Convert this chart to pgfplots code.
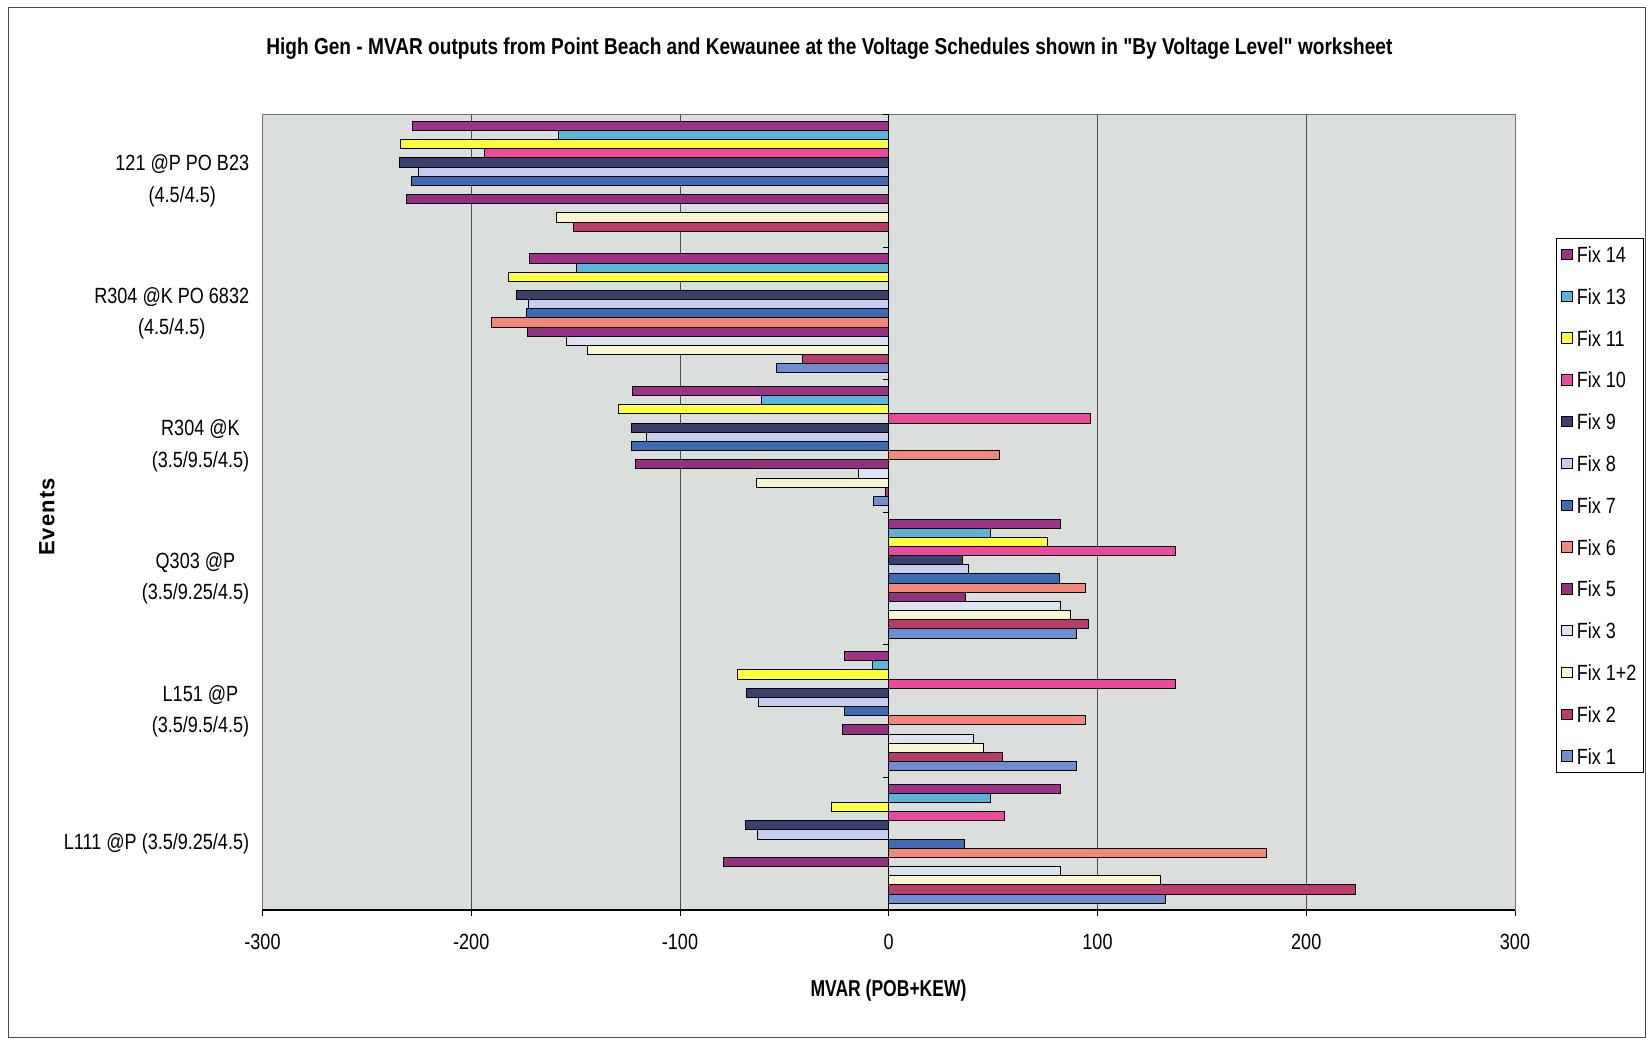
\documentclass[border=0pt]{standalone}
\usepackage{fontspec}
\setmainfont{Liberation Sans}[FakeStretch=0.82]
\newfontfamily\plainfont{Liberation Sans}[LetterSpace=5]
\newfontfamily\titlefont{Liberation Sans}[FakeStretch=0.82, Ligatures=TeXOff]
\usepackage{graphicx}
\usepackage{pgfplots}
\pgfplotsset{compat=1.18}
\definecolor{c14}{HTML}{9C3389}
\definecolor{c13}{HTML}{5CB4D8}
\definecolor{c11}{HTML}{FFFF3C}
\definecolor{c10}{HTML}{E94A9C}
\definecolor{c9}{HTML}{3A406C}
\definecolor{c8}{HTML}{C6CDEE}
\definecolor{c7}{HTML}{3E6BB6}
\definecolor{c6}{HTML}{F2877C}
\definecolor{c5}{HTML}{93307F}
\definecolor{c3}{HTML}{DCE4F4}
\definecolor{c12}{HTML}{F6F6D2}
\definecolor{c2}{HTML}{B93C6C}
\definecolor{c1}{HTML}{6F8ECF}
\definecolor{plotbg}{HTML}{DADEDC}
\begin{document}
\begin{tikzpicture}[x=1pt,y=1pt]
\path[use as bounding box] (0,0) rectangle (823,520);
\draw[black!70,line width=0.5pt] (4,1) rectangle (822.5,516);
\begin{axis}[
  at={(131.25pt,65pt)}, anchor=south west,
  scale only axis, width=626.25pt, height=397.75pt,
  xmin=-300, xmax=300, ymin=-0.5, ymax=5.5,
  xbar, bar width=4.58pt,
  axis background/.style={fill=plotbg},
  axis line style={draw=black!55, line width=0.5pt},
  xmajorgrids, grid style={draw=black!70, line width=0.5pt},
  xtick={-300,-200,-100,0,100,200,300},
  xticklabels={-300,-200,-100,0,100,200,300},
  xtick pos=left, tick align=outside, major tick length=3pt,
  xtick style={draw=black, line width=0.5pt},
  ytick={0,1,2,3,4,5},
  yticklabels={{L111 @P (3.5/9.25/4.5)},{L151 @P\\(3.5/9.5/4.5)},{Q303 @P\\(3.5/9.25/4.5)},{R304 @K\\(3.5/9.5/4.5)},{R304 @K PO 6832\\(4.5/4.5)},{121 @P PO B23\\(4.5/4.5)}},
  ytick pos=left, ytick style={draw=none},
  xticklabel style={font=\fontsize{11}{13}\selectfont, inner sep=0pt, anchor=north, yshift=-9pt},
  yticklabel style={font=\fontsize{11}{15.75}\selectfont, align=center, inner sep=0pt, anchor=east, xshift=-3.5pt},
  every axis plot/.append style={draw=black, line width=0.5pt},
  legend image code/.code={\draw[#1, line width=0.5pt] (0pt,-2.6pt) rectangle (5.2pt,2.6pt);},
  legend style={at={(1.0327,0.8447)}, anchor=north west, draw=black, line width=0.5pt, fill=white,
    font=\fontsize{11}{13}\selectfont, inner ysep=3pt, inner xsep=2.5pt, row sep=10.9pt,
    nodes={inner sep=1pt, text height=8pt, text depth=0pt},
    /tikz/every odd column/.append style={column sep=1pt}},
  legend cell align=left,
]
\addplot[fill=c14, bar shift=27.48pt] coordinates {(82.5,0) (-21.3,1) (82.5,2) (-122.6,3) (-172.1,4) (-228,5)};
\addplot[fill=c13, bar shift=22.9pt] coordinates {(48.6,0) (-7.7,1) (48.6,2) (-60.8,3) (-149.8,4) (-158,5)};
\addplot[fill=c11, bar shift=18.32pt] coordinates {(-27.6,0) (-72.4,1) (76.1,2) (-129.3,3) (-182.3,4) (-234,5)};
\addplot[fill=c10, bar shift=13.74pt] coordinates {(55.5,0) (137.3,1) (137.3,2) (96.5,3) (-193.5,5)};
\addplot[fill=c9, bar shift=9.16pt] coordinates {(-68.5,0) (-68,1) (35.4,2) (-123.4,3) (-178.5,4) (-234.3,5)};
\addplot[fill=c8, bar shift=4.58pt] coordinates {(-62.7,0) (-62.5,1) (38.2,2) (-116.2,3) (-172.5,4) (-225.3,5)};
\addplot[fill=c7, bar shift=0pt] coordinates {(36.5,0) (-21.3,1) (81.8,2) (-123.3,3) (-173.7,4) (-228.5,5)};
\addplot[fill=c6, bar shift=-4.58pt] coordinates {(180.8,0) (94.3,1) (94.3,2) (53,3) (-190.3,4)};
\addplot[fill=c5, bar shift=-9.16pt] coordinates {(-79.3,0) (-22.1,1) (36.9,2) (-121.3,3) (-173,4) (-230.9,5)};
\addplot[fill=c3, bar shift=-13.74pt] coordinates {(82.5,0) (40.8,1) (82.3,2) (-14.3,3) (-154.6,4)};
\addplot[fill=c12, bar shift=-18.32pt] coordinates {(130,0) (45.4,1) (87.3,2) (-63.4,3) (-144.3,4) (-159.4,5)};
\addplot[fill=c2, bar shift=-22.9pt] coordinates {(223.6,0) (54.3,1) (95.9,2) (-1.5,3) (-41.4,4) (-151,5)};
\addplot[fill=c1, bar shift=-27.48pt] coordinates {(132.5,0) (89.9,1) (89.8,2) (-7.2,3) (-53.8,4)};
\legend{Fix 14,Fix 13,Fix 11,Fix 10,Fix 9,Fix 8,Fix 7,Fix 6,Fix 5,Fix 3,Fix 1+2,Fix 2,Fix 1}
\draw[black, line width=0.6pt] (axis cs:0,-0.5) -- (axis cs:0,5.5);
\draw[black, line width=0.6pt] (axis cs:-300,-0.5) -- (axis cs:300,-0.5);
\pgfplotsinvokeforeach{-0.5,0.5,1.5,2.5,3.5,4.5,5.5}{\draw[black, line width=0.5pt] (axis cs:0,#1) -- ([xshift=-3pt]axis cs:0,#1);}
\end{axis}
\node at (414.7,495.8) {\resizebox{563pt}{\height}{\titlefont\bfseries\fontsize{11.5}{13}\selectfont High Gen - MVAR outputs from Point Beach and Kewaunee at the Voltage Schedules shown in "By Voltage Level" worksheet}};
\node at (444.25,24.5) {\resizebox{78pt}{\height}{\bfseries\fontsize{11.5}{13}\selectfont MVAR (POB+KEW)}};
\node[rotate=90] at (23.5,261.5) {\plainfont\bfseries\fontsize{11}{13}\selectfont Events};
\end{tikzpicture}
\end{document}
